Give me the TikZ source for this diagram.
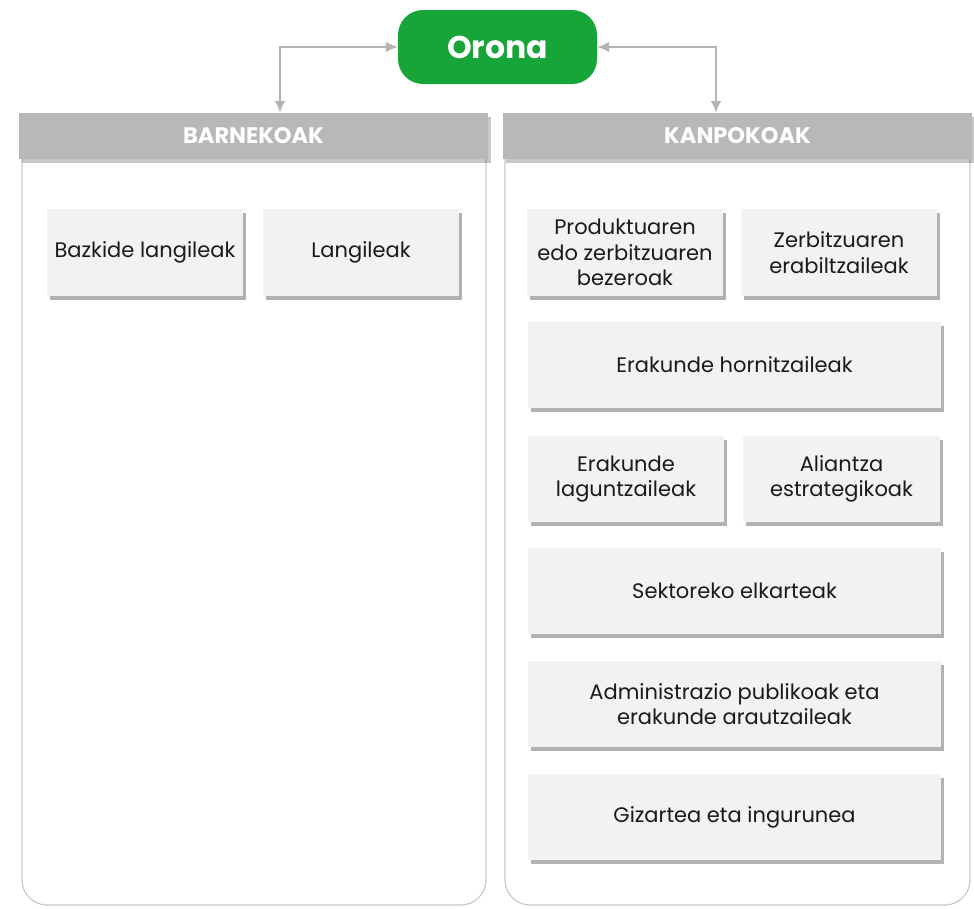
\documentclass[tikz,border=0pt]{standalone}
\usepackage{fontspec}
\setmainfont{Poppins}
\usepackage{tikz}
\usetikzlibrary{positioning,arrows.meta,shadows}
\definecolor{oronagreen}{HTML}{17A53A}
\definecolor{headgray}{HTML}{B8B8B8}
\definecolor{cardgray}{HTML}{F2F2F2}
\definecolor{linegray}{HTML}{B4B4B4}
\definecolor{framegray}{HTML}{C8C8C8}
\definecolor{textblack}{HTML}{1A1A1A}
\tikzset{
  card/.style={fill=cardgray, text=textblack, align=center, inner sep=0pt,
    font=\fontsize{21}{25.5}\selectfont,
    drop shadow={shadow xshift=3pt, shadow yshift=-4pt, opacity=0.3, fill=black}},
  header/.style={fill=headgray, text=white, inner sep=0pt,
    minimum width=469pt, minimum height=46pt,
    font=\fontsize{22.5}{26}\selectfont\bfseries,
    drop shadow={shadow xshift=3pt, shadow yshift=-4pt, opacity=0.22, fill=black}},
  frame/.style={draw=framegray, line width=1.2pt, rounded corners=25pt},
  link/.style={draw=linegray, line width=2.4pt, {Latex[length=12pt,width=11pt]}-{Latex[length=12pt,width=11pt]}}
}

\begin{document}
\begin{tikzpicture}[x=1pt, y=-1pt]
  \useasboundingbox (0,0) rectangle (974,908);
  % frames
  \draw[frame] (22,150) -- (22,905) -- (486,905) -- (486,150);
  \draw[frame] (505,150) -- (505,905) -- (970,905) -- (970,150);
  % headers
  \node[header] (barne) at (253.5,136) {BARNEKOAK};
  \node[header] (kanpo) at (737.5,136) {KANPOKOAK};
  % top node
  \node[fill=oronagreen, text=white, rounded corners=25pt, minimum width=199pt,
    minimum height=74pt, inner sep=0pt, font=\fontsize{31.5}{36}\selectfont\bfseries]
    (orona) at (497.5,47) {Orona};
  \draw[link] (orona.west) -| ([xshift=26.5pt]barne.north);
  \draw[link] (orona.east) -| ([xshift=-21.5pt]kanpo.north);
  % left cards
  \node[card, minimum width=196pt, minimum height=87pt] (bazkide) at (145,252.5) {Bazkide langileak};
  \node[card, minimum width=196pt, minimum height=87pt] (langile) at (361,252.5) {Langileak};
  % right cards
  \node[card, minimum width=196pt, minimum height=87pt] (bezero) at (625,252.5) {Produktuaren\\edo zerbitzuaren\\bezeroak};
  \node[card, minimum width=196pt, minimum height=87pt] (erabil) at (839,252.5) {Zerbitzuaren\\erabiltzaileak};
  \node[card, minimum width=413pt, minimum height=86pt] (horni) at (734.5,365) {Erakunde hornitzaileak};
  \node[card, minimum width=196pt, minimum height=86pt] (lagun) at (626,479) {Erakunde\\laguntzaileak};
  \node[card, minimum width=197pt, minimum height=86pt] (alian) at (841.5,479) {Aliantza\\estrategikoak};
  \node[card, minimum width=413pt, minimum height=86pt] (sektor) at (734.5,591) {Sektoreko elkarteak};
  \node[card, minimum width=413pt, minimum height=86pt] (admin) at (734.5,704) {Administrazio publikoak eta\\erakunde arautzaileak};
  \node[card, minimum width=413pt, minimum height=86pt] (gizarte) at (734.5,817) {Gizartea eta ingurunea};
\end{tikzpicture}
\end{document}
